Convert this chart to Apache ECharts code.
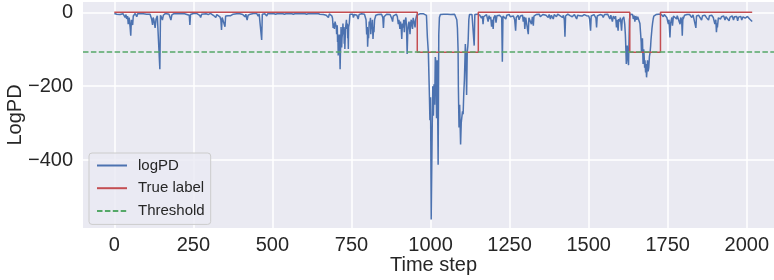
<!DOCTYPE html>
<html>
<head>
<meta charset="utf-8">
<script src="https://cdn.jsdelivr.net/npm/echarts@6/dist/echarts.min.js"></script>
<style>
  html, body { margin: 0; padding: 0; background: #fff; }
  #chart { width: 774px; height: 280px; }
</style>
</head>
<body>
<div id="chart"></div>
<script>
// logPD per time step, [step, value]
const logpd = [
  [0,-3],[8,-5],[14,-2],[18,-6],[24,-3],[28,-4],[31,-8],[34,-14],[37,-6],[39,-18],[42,-10],[44,-32],[47,-14],[50,-40],[52,-63],[54,-20],[55,-28],[58,-34],[60,-10],[62,-5],[66,-3],[71,-12],[74,-4],[81,-3],[86,-6],[92,-4],[97,-3],[102,-5],[107,-3],[113,-5],[116,-9],[118,-18],[121,-34],[123,-14],[125,-20],[127,-30],[129,-42],[132,-18],[136,-9],[140,-5],[144,-154],[146,-8],[148,-9],[150,-15],[152,-21],[155,-8],[157,-5],[162,-3],[166,-4],[173,-5],[177,-8],[179,-21],[182,-7],[184,-5],[190,-3],[197,-4],
  [205,-3],[213,-4],[220,-3],[227,-5],[233,-4],[237,-8],[239,-34],[241,-6],[244,-5],[250,-3],[255,-6],[260,-3],[266,-4],[270,-8],[273,-14],[276,-5],[282,-3],[290,-4],[297,-6],[304,-3],[309,-5],[313,-8],[317,-12],[321,-14],[324,-6],[329,-9],[334,-12],[337,-20],[339,-48],[341,-14],[343,-12],[347,-18],[350,-39],[352,-10],[355,-8],[360,-9],[365,-5],[368,-9],[372,-4],[376,-5],[381,-3],[387,-4],[392,-3],[397,-4],
  [402,-3],[406,-6],[410,-9],[413,-12],[416,-5],[418,-14],[420,-21],[423,-8],[426,-8],[430,-5],[434,-4],[440,-3],[445,-4],[450,-3],[455,-10],[458,-4],[461,-3],[464,-6],[466,-75],[468,-5],[472,-3],[476,-4],[479,-6],[482,-10],[485,-4],[490,-3],[496,-4],[503,-3],[510,-5],[517,-3],[524,-4],[531,-3],[538,-5],[545,-3],[552,-4],[559,-3],[566,-5],[573,-3],[580,-4],[587,-3],[594,-4],
  [601,-3],[608,-5],[615,-3],[622,-4],[629,-3],[636,-4],[643,-3],[650,-5],[656,-4],[661,-6],[666,-5],[670,-8],[674,-6],[677,-14],[680,-4],[684,-6],[688,-10],[690,-16],[692,-42],[694,-30],[696,-45],[698,-25],[700,-20],[702,-40],[703,-59],[705,-35],[706,-80],[707,-60],[708,-117],[709,-70],[711,-105],[712,-60],[714,-154],[715,-110],[716,-90],[717,-40],[719,-95],[720,-70],[722,-50],[723,-30],[724,-60],[726,-40],[727,-85],[728,-55],[729,-99],[731,-45],[733,-40],[734,-20],[735,-45],[737,-30],[738,-70],[739,-55],[740,-99],[741,-40],[743,-30],[745,-5],[748,-4],
  [751,-8],[754,-5],[756,-14],[759,-6],[761,-6],[764,-4],[767,-8],[769,-5],[771,-18],[774,-6],[777,-5],[782,-4],[787,-8],[791,-5],[793,-10],[796,-20],[798,-60],[800,-40],[801,-93],[803,-50],[804,-70],[806,-25],[808,-32],[810,-15],[811,-59],[813,-30],[814,-45],[816,-20],[818,-72],[820,-40],[821,-54],[823,-20],[824,-16],[827,-8],[829,-5],[834,-6],[840,-8],[845,-5],[849,-14],[851,-42],[853,-12],[856,-8],[861,-5],[867,-4],[872,-6],[876,-10],[878,-18],[880,-25],[882,-10],[885,-6],[888,-8],[892,-5],[895,-12],[898,-32],
  [900,-20],[903,-45],[905,-25],[907,-40],[909,-72],[911,-30],[914,-41],[915,-20],[917,-54],[919,-25],[922,-14],[924,-40],[926,-113],[928,-50],[930,-32],[932,-25],[935,-59],[937,-30],[939,-20],[941,-35],[943,-45],[945,-15],[947,-18],[949,-30],[951,-41],[953,-20],[956,-8],[960,-5],[966,-4],[972,-6],[978,-4],[983,-5],[987,-8],[990,-68],[993,-108],[996,-210],[998,-292],
  [1000,-230],[1002,-561],[1005,-330],[1007,-200],[1009,-280],[1011,-195],[1013,-250],[1015,-121],[1017,-140],[1019,-287],[1021,-130],[1024,-413],[1026,-60],[1028,-14],[1031,-6],[1036,-4],[1042,-5],[1048,-9],[1053,-5],[1058,-4],[1064,-6],[1070,-4],[1076,-5],[1080,-9],[1083,-20],[1085,-43],[1087,-100],[1088,-205],[1090,-312],[1092,-250],[1095,-358],[1097,-300],[1098,-291],
  [1101,-268],[1103,-276],[1105,-220],[1107,-183],[1109,-120],[1110,-86],[1112,-130],[1114,-224],[1116,-108],[1118,-90],[1119,-75],[1121,-20],[1123,-6],[1126,-4],[1131,-6],[1135,-5],[1138,-90],[1140,-6],[1144,-4],[1148,-5],[1152,-6],[1156,-8],[1161,-16],[1164,-10],[1166,-32],[1168,-12],[1171,-8],[1174,-14],[1177,-6],[1180,-10],[1182,-25],[1185,-9],[1188,-18],[1190,-12],[1193,-39],[1196,-20],[1198,-45],
  [1200,-14],[1204,-8],[1207,-28],[1210,-9],[1214,-6],[1218,-8],[1222,-5],[1225,-14],[1227,-134],[1229,-10],[1232,-14],[1235,-6],[1238,-18],[1241,-8],[1245,-10],[1249,-6],[1252,-12],[1255,-16],[1258,-7],[1262,-10],[1266,-20],[1269,-50],[1271,-14],[1274,-18],[1277,-8],[1280,-20],[1284,-10],[1288,-14],[1291,-8],[1293,-25],[1296,-12],[1298,-45],
  [1301,-14],[1303,-18],[1306,-10],[1309,-59],[1311,-15],[1314,-20],[1317,-10],[1319,-32],[1322,-12],[1325,-36],[1327,-10],[1330,-14],[1334,-6],[1337,-10],[1340,-9],[1344,-5],[1347,-12],[1351,-15],[1355,-6],[1358,-9],[1361,-5],[1365,-8],[1369,-12],[1372,-14],[1375,-6],[1379,-18],[1382,-8],[1385,-12],[1388,-18],[1391,-6],[1395,-10],[1398,-12],
  [1402,-5],[1405,-8],[1409,-9],[1413,-6],[1417,-14],[1420,-8],[1423,-20],[1425,-66],[1427,-10],[1430,-12],[1434,-5],[1437,-8],[1441,-9],[1445,-6],[1448,-12],[1451,-14],[1455,-6],[1458,-10],[1462,-18],[1465,-8],[1469,-6],[1472,-9],[1476,-5],[1479,-10],[1483,-15],[1486,-6],[1490,-8],[1493,-9],[1497,-5],
  [1500,-10],[1503,-18],[1506,-50],[1508,-10],[1511,-8],[1514,-14],[1517,-6],[1520,-10],[1523,-16],[1525,-41],[1527,-10],[1530,-8],[1532,-12],[1536,-6],[1539,-10],[1543,-8],[1546,-14],[1550,-6],[1553,-9],[1556,-9],[1560,-5],[1563,-10],[1567,-18],[1570,-8],[1573,-12],[1575,-25],[1578,-10],[1581,-14],[1583,-18],[1585,-10],[1588,-41],[1590,-20],[1593,-50],[1595,-18],[1598,-25],
  [1600,-14],[1602,-30],[1604,-50],[1606,-20],[1609,-18],[1611,-12],[1614,-32],[1616,-60],[1617,-84],[1619,-140],[1620,-125],[1622,-90],[1623,-110],[1625,-135],[1626,-143],[1627,-100],[1629,-20],[1631,-5],[1633,-8],[1636,-10],[1639,-6],[1641,-18],[1644,-9],[1646,-25],[1649,-10],[1652,-20],[1655,-12],[1658,-8],[1660,-12],[1662,-30],[1664,-55],[1666,-80],[1667,-110],[1669,-90],[1670,-70],[1672,-140],[1674,-100],[1675,-110],[1677,-150],[1678,-130],[1680,-163],[1681,-140],[1683,-176],[1685,-150],[1686,-130],[1688,-160],[1690,-150],[1692,-120],[1694,-110],[1696,-90],[1697,-75],
  [1700,-45],[1702,-30],[1704,-18],[1706,-10],[1709,-5],[1713,-6],[1717,-4],[1721,-5],[1725,-6],[1729,-5],[1733,-8],[1736,-12],[1739,-6],[1741,-9],[1744,-5],[1747,-14],[1750,-10],[1752,-32],[1754,-20],[1757,-68],[1759,-30],[1761,-32],[1763,-14],[1765,-36],[1768,-10],[1771,-14],[1774,-8],[1778,-18],[1780,-9],[1783,-12],[1786,-8],[1789,-32],[1791,-14],[1794,-20],[1796,-63],[1798,-12],[1799,-18],
  [1803,-8],[1808,-12],[1811,-6],[1815,-9],[1819,-6],[1822,-10],[1826,-14],[1830,-7],[1833,-9],[1836,-12],[1839,-42],[1841,-10],[1844,-12],[1848,-8],[1852,-14],[1855,-10],[1857,-21],[1860,-9],[1864,-12],[1868,-8],[1873,-15],[1876,-10],[1879,-21],[1882,-9],[1885,-12],[1889,-8],[1894,-14],[1897,-12],[1899,-32],
  [1902,-20],[1904,-54],[1906,-30],[1907,-41],[1910,-15],[1912,-14],[1915,-10],[1917,-18],[1920,-12],[1924,-14],[1927,-10],[1931,-21],[1934,-12],[1936,-15],[1940,-11],[1944,-23],[1947,-13],[1950,-15],[1954,-10],[1958,-21],[1961,-12],[1964,-14],[1968,-11],[1971,-23],[1974,-13],[1977,-15],[1981,-11],[1984,-21],[1988,-12],[1992,-12],[1995,-16],[1998,-19],
  [2002,-11],[2006,-14],[2009,-18],[2012,-18],[2015,-14],[2017,-25]
]

// true label: value holds from each step until the next one
const labelSteps = [0, 958, 1151, 1630, 1727, 2017]
const labelValues = [0, -108, 0, -108, 0, 0]

const threshold = -108

const xTicks = [0, 250, 500, 750, 1000, 1250, 1500, 1750, 2000]
const yTicks = [-400, -200, 0]

const FONT = '"Liberation Sans", Arial, sans-serif'
const TEXT = '#262626'

const chart = echarts.init(document.getElementById('chart'), null, { renderer: 'canvas' })

chart.setOption({
  animation: false,
  backgroundColor: '#ffffff',
  textStyle: { fontFamily: FONT },
  grid: {
    left: 83,
    right: 0,
    top: 2,
    bottom: 52,
    containLabel: false,
    outerBoundsMode: 'none',
    show: true,
    backgroundColor: '#eaeaf2',
    borderWidth: 0
  },
  legend: {
    orient: 'vertical',
    left: 89,
    top: 153,
    padding: [5, 6, 6, 7],
    itemWidth: 30,
    itemHeight: 14,
    itemGap: 7.7,
    backgroundColor: 'rgba(234,234,242,0.8)',
    borderColor: '#cccccc',
    borderWidth: 1,
    borderRadius: 3,
    // only the line in the legend icon, no marker
    itemStyle: { opacity: 0, borderWidth: 0 },
    textStyle: {
      fontFamily: FONT,
      fontSize: 15,
      color: TEXT,
      padding: [0, 0, 0, 6]
    },
    data: ['logPD', 'True label', 'Threshold']
  },
  xAxis: {
    type: 'value',
    min: -99,
    max: 2086,
    name: 'Time step',
    nameLocation: 'middle',
    nameGap: 27,
    nameMoveOverlap: false,
    nameTextStyle: { fontFamily: FONT, fontSize: 20, color: TEXT, padding: [0, 0, 0, 10] },
    axisLine: { show: false },
    axisTick: { show: false, customValues: xTicks },
    axisLabel: {
      customValues: xTicks,
      fontFamily: FONT,
      fontSize: 20,
      color: TEXT,
      margin: 7,
      formatter: (v) => String(v)
    },
    splitLine: { show: true, lineStyle: { color: '#ffffff', width: 1.5 } }
  },
  yAxis: {
    type: 'value',
    min: -584,
    max: 28,
    name: 'LogPD',
    nameLocation: 'middle',
    nameGap: 58,
    nameMoveOverlap: false,
    nameTextStyle: { fontFamily: FONT, fontSize: 20, color: TEXT },
    axisLine: { show: false },
    axisTick: { show: false, customValues: yTicks },
    axisLabel: {
      customValues: yTicks,
      fontFamily: FONT,
      fontSize: 20,
      color: TEXT,
      margin: 10,
      formatter: (v) => String(v).replace('-', '\u2212')
    },
    splitLine: { show: true, lineStyle: { color: '#ffffff', width: 1.5 } }
  },
  series: [
    {
      name: 'logPD',
      type: 'line',
      data: logpd,
      symbol: 'none',
      lineStyle: { color: '#4c72b0', width: 1.5 },
      itemStyle: { color: '#4c72b0' }
    },
    {
      name: 'True label',
      type: 'line',
      step: 'end',
      data: labelSteps.map((s, i) => [s, labelValues[i]]),
      symbol: 'none',
      lineStyle: { color: '#c44e52', width: 1.5 },
      itemStyle: { color: '#c44e52' }
    },
    {
      name: 'Threshold',
      type: 'line',
      data: [],
      symbol: 'none',
      lineStyle: { color: '#55a868', width: 1.5, type: [5.5, 2.4] },
      itemStyle: { color: '#55a868' },
      markLine: {
        silent: true,
        symbol: ['none', 'none'],
        label: { show: false },
        lineStyle: { color: '#55a868', width: 1.5, type: [5.5, 2.4] },
        data: [{ yAxis: threshold }]
      }
    }
  ]
})
</script>
</body>
</html>
